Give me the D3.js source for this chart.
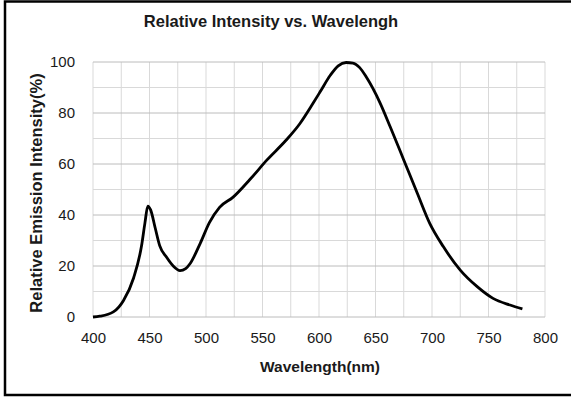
<!DOCTYPE html>
<html>
<head>
<meta charset="utf-8">
<script src="https://cdn.jsdelivr.net/npm/d3@7"></script>
<style>
  body { margin: 0; background: #fff; }
  svg { display: block; font-family: Arial, "Liberation Sans", sans-serif; }
</style>
</head>
<body>
<svg id="chart" width="571" height="397"></svg>
<script>
// spectrum
const wavelengths = [400, 406, 418, 427, 436, 443, 446, 448.5, 451, 455, 459, 465, 471, 477, 482, 486, 495, 503, 512, 524, 539, 554, 571, 583, 595, 601, 610, 617, 624, 630, 636, 642, 654, 663, 675, 687, 698, 710, 725, 740, 754, 769, 780];
const intensity   = [0, 0.3, 2, 6.5, 15.4, 28, 37, 43.5, 42, 35, 28, 23.5, 20, 18.2, 19, 21, 29, 37, 43, 47, 54, 61.6, 69.4, 75.8, 84, 88.3, 94.8, 98.5, 99.8, 99.6, 97.8, 94, 84, 74.6, 61.6, 48.5, 36.7, 27.6, 18.4, 11.9, 7.3, 4.7, 3.2];
const xTicks = [400, 450, 500, 550, 600, 650, 700, 750, 800];
const yTicks = [0, 20, 40, 60, 80, 100];

const svg = d3.select("#chart");
const plotLeft = 93, plotRight = 545, plotTop = 62, plotBottom = 317;

const x = d3.scaleLinear().domain([400, 800]).range([plotLeft, plotRight]);
const y = d3.scaleLinear().domain([0, 100]).range([plotBottom, plotTop]);

// outer frame (right side runs off the picture)
svg.append("rect")
  .attr("x", 5).attr("y", 1.5)
  .attr("width", 580).attr("height", 393.5)
  .attr("fill", "#fff")
  .attr("stroke", "#000")
  .attr("stroke-width", 2.5);

// minor grid
const grid = svg.append("g");
grid.selectAll("line.vx")
  .data(d3.range(400, 801, 25))
  .enter().append("line")
    .attr("x1", (d) => x(d)).attr("x2", (d) => x(d))
    .attr("y1", plotTop).attr("y2", plotBottom)
    .attr("stroke", "#d9d9d9").attr("stroke-width", 1);
grid.selectAll("line.hy")
  .data(d3.range(0, 101, 10))
  .enter().append("line")
    .attr("x1", plotLeft).attr("x2", plotRight)
    .attr("y1", (d) => y(d)).attr("y2", (d) => y(d))
    .attr("stroke", (d) => (d % 20 == 0) ? "#bcbcbc" : "#d9d9d9")
    .attr("stroke-width", 1);

// axes: labels only
const xAxis = svg.append("g")
  .attr("transform", "translate(0," + plotBottom + ")")
  .call(d3.axisBottom(x).tickValues(xTicks).tickSize(0).tickPadding(15));
const yAxis = svg.append("g")
  .attr("transform", "translate(" + plotLeft + ",0)")
  .call(d3.axisLeft(y).tickValues(yTicks).tickSize(0).tickPadding(18));
[xAxis, yAxis].forEach((a) => {
  a.select(".domain").remove();
  a.selectAll("text")
    .attr("font-family", "Arial, 'Liberation Sans', sans-serif")
    .attr("font-size", 15)
    .attr("fill", "#1a1a1a");
});

// curve
const line = d3.line()
  .x((d, i) => x(wavelengths[i]))
  .y((d) => y(d))
  .curve(d3.curveMonotoneX);
svg.append("path")
  .datum(intensity)
  .attr("d", line)
  .attr("fill", "none")
  .attr("stroke", "#000")
  .attr("stroke-width", 2.8)
  .attr("stroke-linejoin", "round");

// titles
svg.append("text")
  .attr("x", 271).attr("y", 27)
  .attr("text-anchor", "middle")
  .attr("font-size", 16.5).attr("font-weight", "bold")
  .attr("fill", "#1a1a1a")
  .text("Relative Intensity vs. Wavelengh");

svg.append("text")
  .attr("x", 320).attr("y", 372)
  .attr("text-anchor", "middle")
  .attr("font-size", 15.5).attr("font-weight", "bold")
  .attr("fill", "#1a1a1a")
  .text("Wavelength(nm)");

svg.append("text")
  .attr("transform", "translate(42,193) rotate(-90)")
  .attr("text-anchor", "middle")
  .attr("font-size", 16.5).attr("font-weight", "bold")
  .attr("fill", "#1a1a1a")
  .text("Relative Emission Intensity(%)");
</script>
</body>
</html>
